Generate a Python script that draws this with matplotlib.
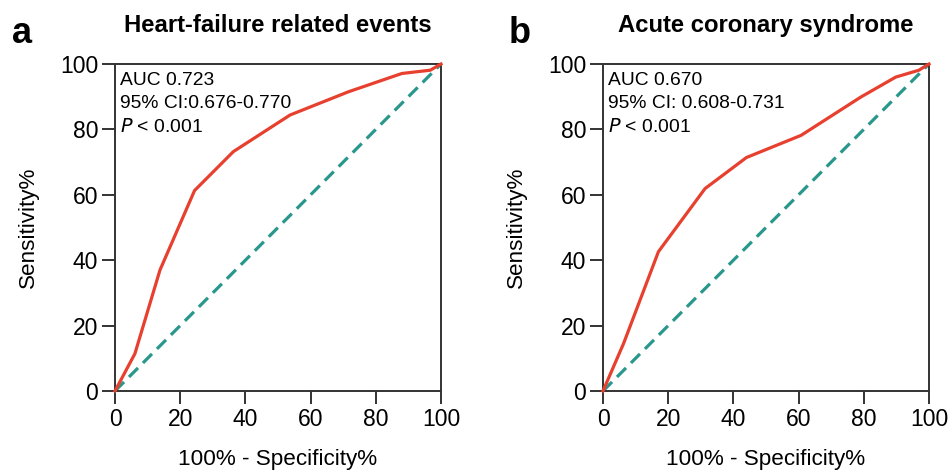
import matplotlib
matplotlib.use("Agg")
import matplotlib.pyplot as plt

plt.rcParams['font.family'] = ['Liberation Sans', 'DejaVu Sans']

fpr_a = [0, 6.1, 13.8, 24.4, 36.3, 53.7, 71.6, 88.0, 96.7, 100]
tpr_a = [0, 11.4, 37.0, 61.3, 73.2, 84.4, 91.5, 97.1, 98.1, 100]
fpr_b = [0, 6.3, 17.0, 31.3, 44.0, 60.8, 79.1, 89.8, 96.9, 100]
tpr_b = [0, 14.5, 42.6, 61.9, 71.4, 78.2, 89.9, 96.0, 98.1, 100]
ref = [0, 100]
ticks = [0, 20, 40, 60, 80, 100]

titles = ["Heart-failure related events", "Acute coronary syndrome"]
letters = ["a", "b"]
auc_text = ["AUC 0.723", "AUC 0.670"]
ci_text = ["95% CI:0.676-0.770", "95% CI: 0.608-0.731"]

red = "#E8402F"
teal = "#2A978C"
spine = "#333333"

fig = plt.figure(figsize=(9.52, 4.73), dpi=100)
lefts = [115/952, 603/952]
letter_x = [12/952, 509/952]
bottom = 1 - 391/473
height = (391 - 64)/473
width = 326/952

for i, (fx, ty) in enumerate([(fpr_a, tpr_a), (fpr_b, tpr_b)]):
    ax = fig.add_axes([lefts[i], bottom, width, height])
    ax.plot(ref, ref, color=teal, lw=2.3, ls=(0, (4, 2.2)), zorder=2)
    ax.plot(fx, ty, color=red, lw=2.3, zorder=3, clip_on=False)
    ax.set_xlim(0, 100)
    ax.set_ylim(0, 100)
    ax.set_xticks(ticks)
    ax.set_yticks(ticks)
    ax.tick_params(labelsize=16.5, length=9.5, width=1.4, color=spine, pad=2.5)
    for s in ax.spines.values():
        s.set_linewidth(1.4)
        s.set_color(spine)
    ax.set_xlabel("100% - Specificity%", fontsize=16.2, labelpad=13)
    ax.set_ylabel("Sensitivity%", fontsize=16.2, labelpad=15)
    ax.text(0.015, 0.936, auc_text[i], transform=ax.transAxes, fontsize=13.9, va='baseline', ha='left')
    ax.text(0.015, 0.864, ci_text[i], transform=ax.transAxes, fontsize=13.9, va='baseline', ha='left')
    ax.text(0.015, 0.793, "$\\it{P}$ < 0.001", transform=ax.transAxes, fontsize=13.9, va='baseline', ha='left')
    ax.set_title(titles[i], fontsize=17.2, fontweight='bold', pad=23)
    fig.text(letter_x[i], 1 - 43/473, letters[i], fontsize=26, fontweight='bold', va='baseline', ha='left')

fig.savefig("out.png", dpi=100)
